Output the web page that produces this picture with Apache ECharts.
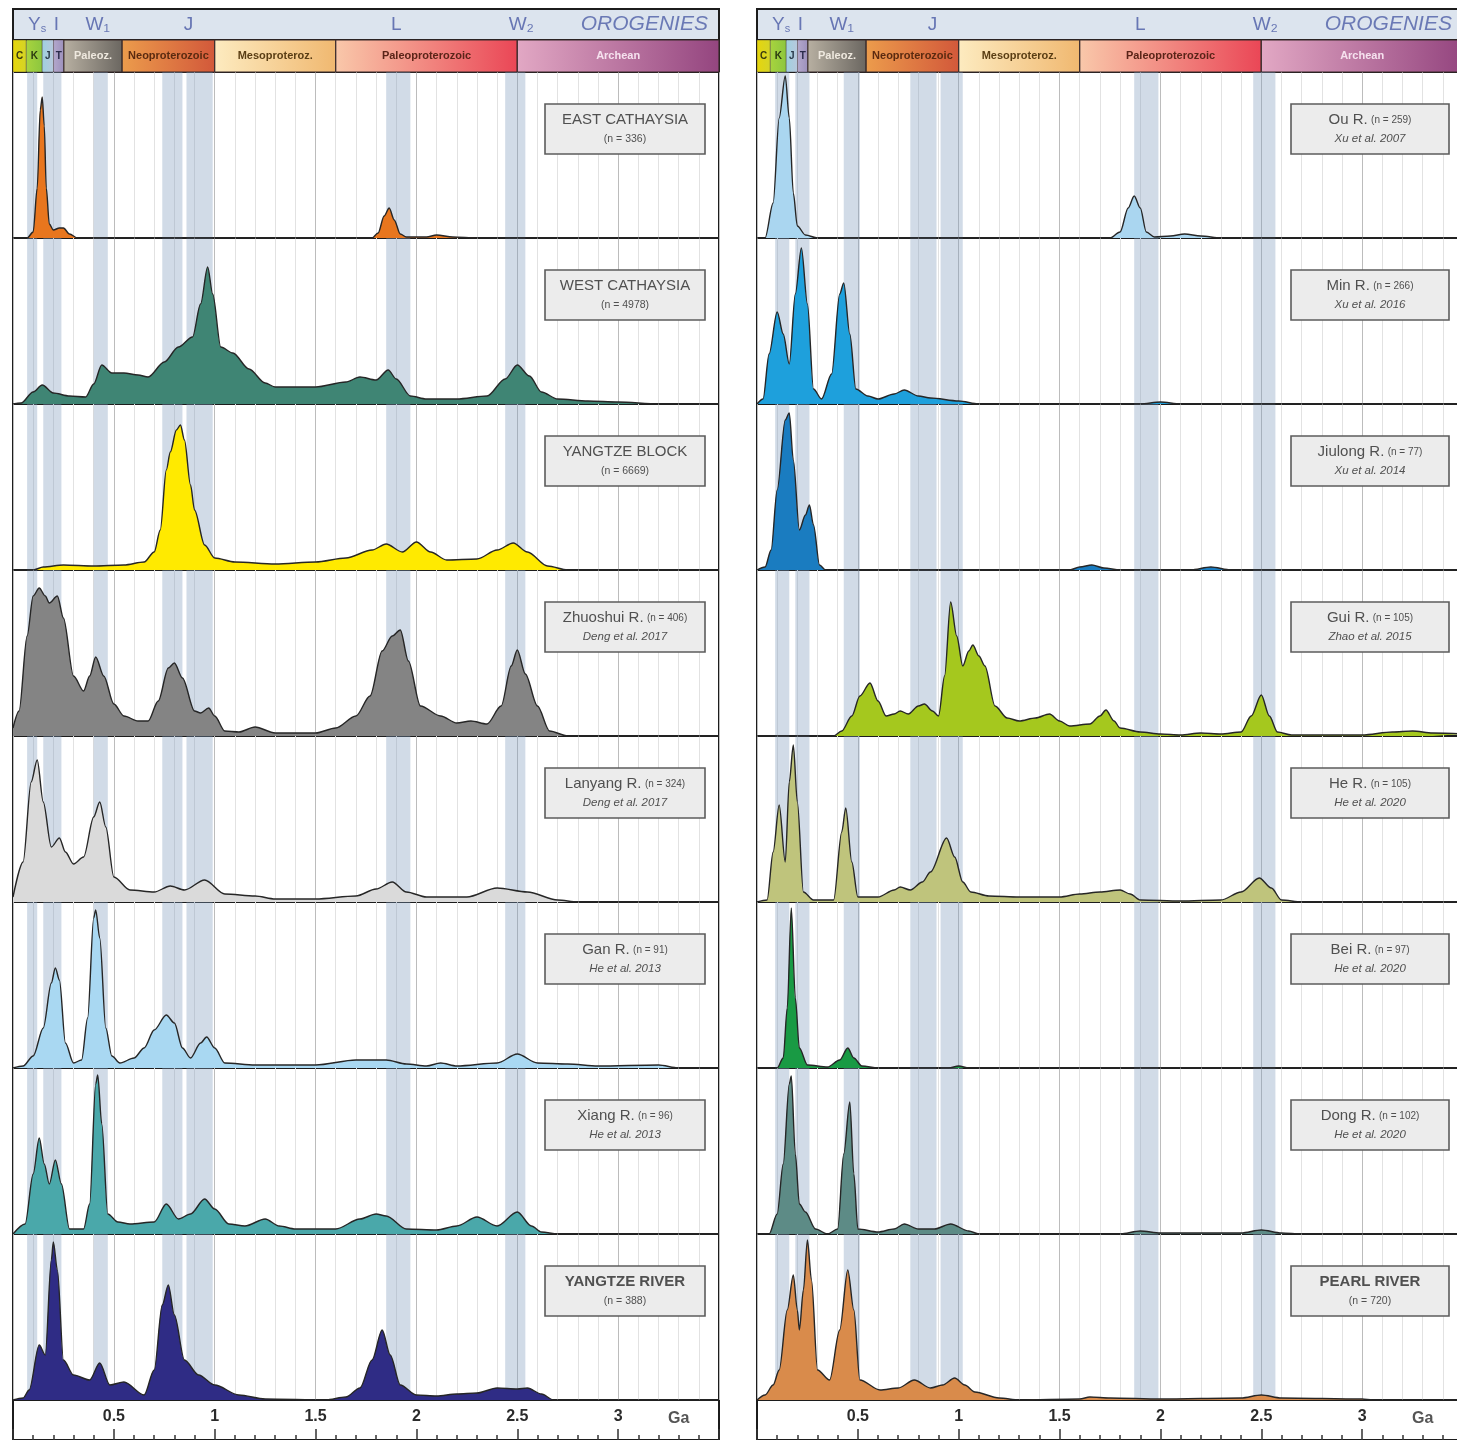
<!DOCTYPE html>
<html><head><meta charset="utf-8">
<script src="https://cdn.jsdelivr.net/npm/echarts@6/dist/echarts.min.js"></script>
<style>html,body{margin:0;padding:0;background:#fff;overflow:hidden}#c{width:1480px;height:1440px}</style>
</head><body><div id="c"></div>
<script>
// ---------------- DATA ----------------
const xTickLabels = ['', '0.5', '1', '1.5', '2', '2.5', '3', ''];
const unitLabel = 'Ga';

const orogenyNames = ['Y|s', 'I', 'W\u2081', 'J', 'L', 'W\u2082'];
const orogenyAges  = [0.12, 0.215, 0.42, 0.87, 1.9, 2.52];
const orogeniesTitle = 'OROGENIES';

const eraNames = ['C', 'K', 'J', 'T', 'Paleoz.', 'Neoproterozoic', 'Mesoproteroz.', 'Paleoproterozoic', 'Archean'];
const eraStart = [0, 0.066, 0.145, 0.201, 0.252, 0.541, 1.0, 1.6, 2.5];
const eraEnd   = [0.066, 0.145, 0.201, 0.252, 0.541, 1.0, 1.6, 2.5, 3.5];

const bandsL = [[0.07,0.12],[0.15,0.24],[0.40,0.47],[0.74,0.84],[0.86,0.99],[1.85,1.97],[2.44,2.54]];
const bandsR = [[0.09,0.16],[0.19,0.26],[0.43,0.51],[0.76,0.89],[0.91,1.02],[1.87,1.99],[2.46,2.57]];

const namesL = ['EAST CATHAYSIA','WEST CATHAYSIA','YANGTZE BLOCK','Zhuoshui R.','Lanyang R.','Gan R.','Xiang R.','YANGTZE RIVER'];
const countsL = [336, 4978, 6669, 406, 324, 91, 96, 388];
const refsL = ['', '', '', 'Deng et al. 2017', 'Deng et al. 2017', 'He et al. 2013', 'He et al. 2013', ''];

const namesR = ['Ou R.','Min R.','Jiulong R.','Gui R.','He R.','Bei R.','Dong R.','PEARL RIVER'];
const countsR = [259, 266, 77, 105, 105, 97, 102, 720];
const refsR = ['Xu et al. 2007','Xu et al. 2016','Xu et al. 2014','Zhao et al. 2015','He et al. 2020','He et al. 2020','He et al. 2020',''];

// age (Ga), relative probability density
const eastCathaysia = [[0,0],[0.07,0],[0.1,6],[0.12,50],[0.135,128],[0.145,141],[0.155,112],[0.165,50],[0.18,14],[0.2,8],[0.23,10],[0.25,10],[0.28,4],[0.32,0],[1.78,0],[1.81,5],[1.84,22],[1.865,30],[1.89,18],[1.92,4],[1.95,1],[2.05,1],[2.1,3],[2.18,1],[2.3,0],[3.5,0]];
const westCathaysia = [[0,0],[0.04,1],[0.1,12],[0.145,19],[0.2,11],[0.28,8],[0.36,7],[0.4,20],[0.44,39],[0.49,31],[0.55,31],[0.62,29],[0.67,27],[0.75,42],[0.82,57],[0.89,67],[0.93,100],[0.965,137],[0.99,110],[1.03,57],[1.09,51],[1.17,35],[1.25,21],[1.3,17],[1.5,17],[1.65,22],[1.72,27],[1.8,24],[1.86,34],[1.9,25],[1.97,8],[2.05,5],[2.2,5],[2.35,8],[2.44,25],[2.5,39],[2.56,28],[2.62,12],[2.7,5],[2.85,3],[3.0,2],[3.2,0],[3.5,0]];
const yangtzeBlock = [[0,0],[0.1,0],[0.15,3],[0.25,5],[0.4,4],[0.55,5],[0.65,8],[0.7,18],[0.73,40],[0.76,100],[0.78,118],[0.81,140],[0.83,145],[0.85,130],[0.88,85],[0.9,60],[0.95,25],[1.0,12],[1.1,8],[1.3,6],[1.5,8],[1.65,12],[1.78,20],[1.85,26],[1.93,18],[2.0,28],[2.07,18],[2.15,10],[2.3,11],[2.4,20],[2.48,27],[2.55,18],[2.65,4],[2.75,0],[3.5,0]];
const zhuoshui = [[0,8],[0.03,25],[0.07,100],[0.1,140],[0.13,148],[0.16,140],[0.18,133],[0.22,140],[0.25,118],[0.3,60],[0.35,45],[0.38,60],[0.41,79],[0.45,60],[0.5,32],[0.55,20],[0.62,15],[0.67,15],[0.72,35],[0.77,68],[0.8,73],[0.84,58],[0.9,25],[0.93,23],[0.97,28],[1.0,20],[1.05,5],[1.12,4],[1.2,9],[1.3,3],[1.5,3],[1.6,8],[1.7,20],[1.77,40],[1.83,85],[1.88,100],[1.92,106],[1.96,75],[2.02,30],[2.12,20],[2.2,13],[2.27,15],[2.35,12],[2.42,30],[2.47,70],[2.5,86],[2.54,62],[2.6,30],[2.66,5],[2.75,0],[3.5,0]];
const lanyang = [[0,5],[0.05,40],[0.09,120],[0.12,142],[0.15,100],[0.19,55],[0.23,64],[0.26,50],[0.3,38],[0.35,45],[0.4,85],[0.43,100],[0.46,75],[0.5,25],[0.58,12],[0.7,10],[0.78,16],[0.85,12],[0.95,22],[1.05,8],[1.2,6],[1.3,3],[1.5,3],[1.7,6],[1.8,13],[1.88,20],[1.95,10],[2.05,5],[2.25,5],[2.4,14],[2.55,10],[2.7,2],[2.8,0],[3.5,0]];
const gan = [[0,0],[0.05,2],[0.1,12],[0.15,40],[0.19,85],[0.21,100],[0.23,88],[0.26,25],[0.3,5],[0.34,8],[0.37,50],[0.4,150],[0.41,158],[0.43,130],[0.46,40],[0.49,12],[0.53,5],[0.6,10],[0.65,20],[0.7,38],[0.76,53],[0.8,45],[0.84,20],[0.88,10],[0.93,25],[0.96,31],[1.0,20],[1.05,5],[1.2,3],[1.5,3],[1.7,8],[1.85,8],[1.95,4],[2.05,2],[2.12,5],[2.2,2],[2.4,5],[2.5,14],[2.6,5],[2.75,4],[2.9,2],[3.2,3],[3.3,0],[3.5,0]];
const xiang = [[0,0],[0.06,10],[0.1,60],[0.13,96],[0.155,70],[0.18,50],[0.21,74],[0.24,50],[0.28,5],[0.35,5],[0.38,30],[0.41,150],[0.42,159],[0.44,110],[0.47,20],[0.52,12],[0.58,10],[0.7,12],[0.76,30],[0.82,15],[0.88,20],[0.95,35],[1.0,25],[1.07,10],[1.15,8],[1.25,15],[1.32,8],[1.4,5],[1.6,5],[1.72,15],[1.8,20],[1.85,18],[1.95,5],[2.1,4],[2.2,8],[2.3,17],[2.4,8],[2.5,22],[2.57,8],[2.62,2],[2.7,0],[3.5,0]];
const yangtzeRiver = [[0,0],[0.05,2],[0.08,10],[0.13,55],[0.16,45],[0.19,140],[0.2,158],[0.22,130],[0.25,40],[0.3,25],[0.38,20],[0.43,37],[0.48,15],[0.55,18],[0.65,5],[0.7,30],[0.74,95],[0.77,115],[0.8,85],[0.85,40],[0.92,25],[1.0,15],[1.12,5],[1.25,1],[1.55,0],[1.65,3],[1.72,12],[1.78,40],[1.83,70],[1.87,45],[1.92,15],[2.0,5],[2.1,4],[2.2,6],[2.3,7],[2.4,12],[2.5,11],[2.55,12],[2.62,6],[2.68,0],[3.5,0]];

const ouR = [[0,0],[0.04,0],[0.08,35],[0.11,120],[0.14,162],[0.16,120],[0.18,45],[0.2,12],[0.24,3],[0.3,0],[1.75,0],[1.8,6],[1.84,30],[1.87,42],[1.9,30],[1.93,6],[1.97,1],[2.05,2],[2.12,4],[2.2,2],[2.3,0],[3.5,0]];
const minR = [[0,0],[0.03,5],[0.06,50],[0.1,92],[0.13,70],[0.16,40],[0.19,110],[0.22,156],[0.25,100],[0.28,15],[0.32,5],[0.37,30],[0.41,110],[0.43,121],[0.46,70],[0.49,15],[0.55,8],[0.6,5],[0.68,10],[0.73,14],[0.8,8],[0.86,6],[1.0,3],[1.1,0],[1.9,0],[2.0,2],[2.1,0],[3.5,0]];
const jiulongR = [[0,0],[0.04,3],[0.07,20],[0.1,80],[0.14,150],[0.16,157],[0.18,110],[0.21,40],[0.24,55],[0.26,65],[0.28,45],[0.31,5],[0.34,0],[1.55,0],[1.6,3],[1.66,5],[1.72,2],[1.8,0],[2.15,0],[2.25,3],[2.35,0],[3.5,0]];
const guiR = [[0,0],[0.38,0],[0.42,5],[0.47,20],[0.51,40],[0.56,53],[0.6,35],[0.64,20],[0.68,22],[0.71,25],[0.75,22],[0.8,30],[0.83,32],[0.87,25],[0.9,20],[0.93,60],[0.96,134],[0.99,100],[1.02,70],[1.05,85],[1.07,91],[1.1,80],[1.13,70],[1.18,30],[1.24,18],[1.3,15],[1.38,18],[1.45,22],[1.5,15],[1.55,10],[1.65,12],[1.7,20],[1.73,26],[1.77,15],[1.8,8],[1.9,4],[2.0,2],[2.1,1],[2.2,3],[2.3,2],[2.4,4],[2.45,20],[2.5,41],[2.54,20],[2.58,4],[2.65,1],[3.0,1],[3.15,4],[3.25,5],[3.35,3],[3.5,2]];
const heR = [[0,0],[0.05,2],[0.08,50],[0.11,97],[0.14,40],[0.16,120],[0.18,157],[0.2,100],[0.23,10],[0.28,2],[0.38,2],[0.42,70],[0.44,94],[0.47,40],[0.5,5],[0.6,5],[0.68,12],[0.71,15],[0.76,12],[0.82,20],[0.86,30],[0.94,64],[0.98,45],[1.02,20],[1.06,10],[1.15,6],[1.3,5],[1.5,5],[1.6,8],[1.7,10],[1.8,12],[1.85,8],[1.9,2],[2.1,1],[2.3,2],[2.4,10],[2.49,24],[2.55,14],[2.6,2],[2.7,0],[3.5,0]];
const beiR = [[0,0],[0.1,0],[0.13,10],[0.15,60],[0.17,160],[0.19,70],[0.21,20],[0.25,3],[0.35,1],[0.41,8],[0.45,20],[0.48,10],[0.52,2],[0.6,0],[0.95,0],[1.0,2],[1.05,0],[3.5,0]];
const dongR = [[0,0],[0.06,0],[0.1,20],[0.13,70],[0.16,150],[0.17,158],[0.19,80],[0.21,30],[0.24,22],[0.29,5],[0.35,0],[0.4,5],[0.43,80],[0.46,132],[0.48,60],[0.5,5],[0.6,2],[0.68,5],[0.73,10],[0.8,5],[0.88,5],[0.96,10],[1.05,3],[1.1,0],[1.8,0],[1.9,3],[2.0,1],[2.4,1],[2.5,4],[2.6,1],[2.7,0],[3.5,0]];
const pearlRiver = [[0,0],[0.04,5],[0.08,15],[0.11,30],[0.15,90],[0.18,125],[0.2,90],[0.21,70],[0.23,110],[0.25,160],[0.27,120],[0.3,30],[0.36,20],[0.41,70],[0.45,130],[0.48,90],[0.51,20],[0.61,10],[0.7,12],[0.78,20],[0.86,12],[0.92,15],[0.98,22],[1.03,15],[1.08,8],[1.2,2],[1.3,0],[1.6,1],[1.65,3],[1.75,2],[2.0,1],[2.4,2],[2.5,5],[2.6,2],[3.0,1],[3.05,0],[3.5,0]];

const curvesL = [eastCathaysia, westCathaysia, yangtzeBlock, zhuoshui, lanyang, gan, xiang, yangtzeRiver];
const curvesR = [ouR, minR, jiulongR, guiR, heR, beiR, dongR, pearlRiver];

// ---------------- STYLE / LAYOUT ----------------
const fillsL = ['#e8761e','#3f8574','#ffea00','#848484','#dadada','#a9d8f2','#4aa8aa','#2f2c85'];
const fillsR = ['#aad6f0','#1ea0dc','#1a7cc0','#a5c81e','#bfc47c','#199a44','#5d8b86','#d98b4b'];
const eraFill = [
  ['#e6d60c','#d4d428'], ['#a8d43e','#8cc63f'], ['#9fd0e0','#b8c8dc'], ['#b4a8cc','#9c90bc'],
  ['#b8b0a2','#6a6660'], ['#ec9c4c','#d2583a'], ['#fdebc0','#f0b870'], ['#f9c8aa','#ea4656'], ['#e2a8c4','#94457f']
];
const eraText = ['#3a3a10','#2a3a10','#2a3a4a','#2a2a4a','#efe9df','#5a2a10','#5a3e14','#5a2418','#f6e2ef'];
const FONT = '"Liberation Sans", Arial, sans-serif';
const PANEL_TOP = 72, PANEL_H = 166;

const cols = [
  {left: 13, width: 706, names: namesL, counts: countsL, refs: refsL, curves: curvesL, fills: fillsL, bands: bandsL, boxX: 545, boxW: 160},
  {left: 757, width: 706, names: namesR, counts: countsR, refs: refsR, curves: curvesR, fills: fillsR, bands: bandsR, boxX: 1291, boxW: 158}
];

const option = {animation: false, grid: [], xAxis: [], yAxis: [], series: [], graphic: []};
function addGrid(g, xOpt, yMax) {
  const i = option.grid.length;
  option.grid.push(Object.assign({containLabel: false}, g));
  option.xAxis.push(Object.assign({gridIndex: i, type: 'value', min: 0, max: 3.5, show: false}, xOpt || {}));
  option.yAxis.push({gridIndex: i, type: 'value', min: 0, max: yMax, show: false});
  return i;
}
const borderBase = {show: true, borderColor: '#1c1c1c', borderWidth: 2, backgroundColor: 'transparent'};

cols.forEach((c) => {
  // orogeny strip
  const gh = addGrid(Object.assign({}, borderBase, {left: c.left, width: c.width, top: 9, height: 31, backgroundColor: '#dce4ee'}), null, 1);
  option.series.push({
    type: 'scatter', xAxisIndex: gh, yAxisIndex: gh, symbolSize: 0, silent: true,
    data: orogenyNames.map((n, i) => ({
      value: [orogenyAges[i], 0.5],
      label: {show: true, position: 'inside',
        formatter: n.indexOf('|') >= 0 ? '{m|' + n.split('|')[0] + '}{s|' + n.split('|')[1] + '}' : '{m|' + n + '}',
        rich: {m: {fontSize: 19, color: '#4a5aa5', fontFamily: FONT}, s: {fontSize: 11, color: '#4a5aa5', fontFamily: FONT, verticalAlign: 'bottom', padding: [8, 0, 0, 0]}}}
    })).concat([{value: [3.13, 0.5], label: {show: true, position: 'inside', formatter: orogeniesTitle, fontSize: 21, fontStyle: 'italic', color: '#4d5ea6', fontFamily: FONT}}])
  });
  // time scale bar
  const gt = addGrid(Object.assign({}, borderBase, {left: c.left, width: c.width, top: 40, height: 32}), null, 1);
  option.series.push({
    type: 'line', xAxisIndex: gt, yAxisIndex: gt, data: [[0, 0]], symbol: 'none', lineStyle: {opacity: 0}, silent: true,
    markArea: {silent: true, data: eraNames.map((n, i) => [
      {xAxis: eraStart[i],
       itemStyle: {color: {type: 'linear', x: 0, y: 0, x2: 1, y2: 0, colorStops: [{offset: 0, color: eraFill[i][0]}, {offset: 1, color: eraFill[i][1]}]}, borderColor: '#3a2a2a', borderWidth: i >= 4 ? 1.2 : 0.4},
       label: {show: true, position: 'inside', formatter: n, fontSize: n.length > 1 ? 11 : 10, fontWeight: 'bold', color: eraText[i], fontFamily: FONT}},
      {xAxis: eraEnd[i]}
    ])}
  });
  // panels
  c.curves.forEach((curve, p) => {
    const gi = addGrid(Object.assign({}, borderBase, {left: c.left, width: c.width, top: PANEL_TOP + p * PANEL_H, height: PANEL_H}), {
      show: true, interval: 0.5,
      axisLine: {show: false}, axisTick: {show: false}, axisLabel: {show: false},
      splitLine: {show: true, lineStyle: {color: '#bcbcbc', width: 1}},
      minorTick: {show: false, splitNumber: 5},
      minorSplitLine: {show: true, lineStyle: {color: '#e2e2e2', width: 1}}
    }, PANEL_H);
    option.series.push({
      type: 'line', xAxisIndex: gi, yAxisIndex: gi, data: [[0, 0]], symbol: 'none', lineStyle: {opacity: 0}, silent: true, z: 1,
      markArea: {silent: true, itemStyle: {color: 'rgba(128,156,188,0.36)'}, data: c.bands.map(b => [{xAxis: b[0]}, {xAxis: b[1]}])}
    });
    option.series.push({
      type: 'line', xAxisIndex: gi, yAxisIndex: gi, data: curve, symbol: 'none', smooth: 0.3, smoothMonotone: 'x', silent: true, z: 3,
      lineStyle: {color: '#262626', width: 1.4},
      areaStyle: {color: c.fills[p], opacity: 1}
    });
    // label box
    const bx = c.boxX, by = PANEL_TOP + p * PANEL_H + 32, cx = bx + c.boxW / 2;
    const caps = c.names[p] === c.names[p].toUpperCase();
    const bold = p === 7;
    option.graphic.push({type: 'rect', z: 100, shape: {x: bx, y: by, width: c.boxW, height: 50},
      style: {fill: '#ececec', stroke: '#5c5c5c', lineWidth: 1.6}});
    let l1, l2;
    if (caps) {
      l1 = {text: c.names[p], fontSize: 15, fontWeight: bold ? 'bold' : 'normal', fill: '#505050'};
      l2 = {text: '(n = ' + c.counts[p] + ')', fontSize: 10.5, fill: '#505050'};
    } else {
      l1 = {text: '{t|' + c.names[p] + '} {n|(n = ' + c.counts[p] + ')}', rich: {t: {fontSize: 15, fill: '#505050', fontFamily: FONT}, n: {fontSize: 10, fill: '#505050', fontFamily: FONT}}};
      l2 = {text: c.refs[p], fontSize: 11.5, fontStyle: 'italic', fill: '#505050'};
    }
    option.graphic.push({type: 'text', z: 101, style: Object.assign({x: cx, y: by + 16, align: 'center', verticalAlign: 'middle', fontFamily: FONT}, l1)});
    option.graphic.push({type: 'text', z: 101, style: Object.assign({x: cx, y: by + 35, align: 'center', verticalAlign: 'middle', fontFamily: FONT}, l2)});
  });
  // bottom axis
  const ga = addGrid(Object.assign({}, borderBase, {left: c.left, width: c.width, top: 1400, height: 42}), {
    show: true, position: 'bottom', interval: 0.5,
    axisLine: {show: false},
    axisTick: {show: true, inside: true, length: 11, lineStyle: {color: '#333', width: 1.5}},
    minorTick: {show: true, splitNumber: 5, length: 5, lineStyle: {color: '#333', width: 1.5}},
    splitLine: {show: false},
    axisLabel: {show: true, inside: true, margin: 15, fontSize: 16, fontWeight: 'bold', color: '#2b2b2b', fontFamily: FONT,
      showMinLabel: true, showMaxLabel: true,
      formatter: (v) => xTickLabels[Math.round(v / 0.5)] || ''}
  }, 42);
  option.series.push({
    type: 'scatter', xAxisIndex: ga, yAxisIndex: ga, symbolSize: 0, silent: true,
    data: [{value: [3.3, 22], label: {show: true, position: 'inside', formatter: unitLabel, fontSize: 16, fontWeight: 'bold', color: '#2b2b2b', fontFamily: FONT}}]
  });
});

const chart = echarts.init(document.getElementById('c'), null, {renderer: 'canvas'});
chart.setOption(option);
</script>
</body></html>
